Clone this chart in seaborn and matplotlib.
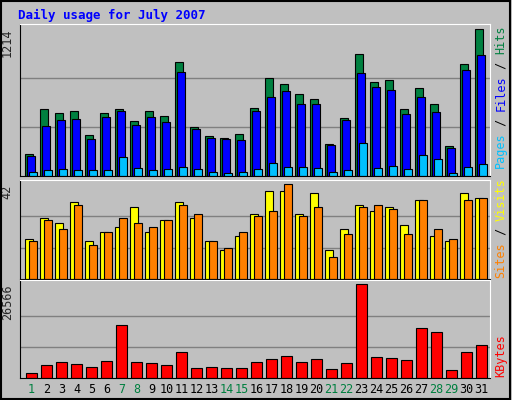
import numpy as np
import pandas as pd
import seaborn as sns
import matplotlib
matplotlib.use('Agg')
import matplotlib.pyplot as plt
from matplotlib.patches import Rectangle

days = list(range(1, 32))
weekend = [1, 7, 8, 14, 15, 21, 22, 28, 29]
hits = [179, 552, 519, 535, 337, 519, 552, 452, 535, 494, 941, 403, 328, 312, 345, 560,
        808, 759, 676, 635, 262, 477, 1007, 775, 792, 552, 726, 593, 246, 924, 1214]
files = [163, 411, 461, 469, 303, 486, 535, 419, 486, 444, 858, 386, 312, 303, 295, 535,
         651, 701, 593, 593, 254, 461, 850, 734, 709, 510, 651, 527, 229, 875, 999]
pages = [30, 47, 55, 47, 47, 47, 155, 63, 47, 55, 72, 55, 30, 22, 30, 55,
         105, 72, 72, 63, 30, 47, 270, 63, 80, 55, 171, 138, 22, 72, 97]
visits = [18, 27, 25, 34, 17, 21, 23, 32, 21, 26, 34, 27, 17, 13, 19, 29,
          39, 39, 29, 38, 13, 22, 33, 30, 32, 24, 35, 19, 17, 38, 36]
sites = [17, 26, 22, 33, 15, 21, 27, 25, 23, 26, 33, 29, 17, 14, 21, 28,
         30, 42, 28, 32, 10, 20, 32, 33, 31, 20, 35, 22, 18, 35, 36]
kbytes = [1551, 3587, 4460, 3878, 3006, 4751, 14931, 4460, 4169, 3587, 7369, 2715, 3006, 2715, 2715, 4460,
          5333, 6205, 4460, 5333, 2424, 4169, 26566, 5914, 5623, 5042, 14059, 13186, 2133, 7369, 9405]

sns.set_style('white')
plt.rcParams['font.family'] = ['DejaVu Sans Mono', 'DejaVu Sans']

fig = plt.figure(figsize=(5.12, 4.0), dpi=100)
fig.patch.set_facecolor('#C0C0C0')
fig.add_artist(Rectangle((0.002, 0.003), 0.995, 0.994, transform=fig.transFigure,
                         fill=False, edgecolor='black', linewidth=1.5))

L, W = 0.039, 0.919
ax1 = fig.add_axes([L, 0.56, W, 0.38])
ax2 = fig.add_axes([L, 0.3025, W, 0.2475])
ax3 = fig.add_axes([L, 0.055, W, 0.245])
x = np.arange(31)
kw = dict(align='edge', edgecolor='black', linewidth=0.8)

ax1.bar(x - 0.43, hits, width=0.53, color='#008040', **kw)
ax1.bar(x - 0.30, files, width=0.53, color='#0000FF', **kw)
ax1.bar(x - 0.15, pages, width=0.50, color='#00C0FF', **kw)
ax1.set_ylim(0, 1255)

ax2.bar(x - 0.41, visits, width=0.49, color='#FFFF00', **kw)
ax2.bar(x - 0.15, sites, width=0.50, color='#FF8000', **kw)
ax2.set_ylim(0, 44)

df = pd.DataFrame({'day': x, 'kb': kbytes})
sns.barplot(data=df, x='day', y='kb', color='#FF0000', native_scale=True, width=0.74,
            saturation=1, edgecolor='black', linewidth=0.8, ax=ax3)
ax3.set_ylim(0, 27800)

for ax, top in [(ax1, 1214), (ax2, 42), (ax3, 26566)]:
    ax.set_facecolor('#C0C0C0')
    ax.set_xlim(-0.77, 30.6)
    for g in (top / 3, 2 * top / 3):
        ax.axhline(g, color='#808080', linewidth=1, zorder=0)
    ax.set_xticks([]); ax.set_yticks([])
    ax.set_xlabel(''); ax.set_ylabel('')
    for s in ax.spines.values():
        s.set_color('black')
    ax.spines['top'].set_color('white')
    ax.spines['right'].set_color('white')
    ax.text(-0.027, top / ax.get_ylim()[1], str(top),
            transform=ax.transAxes, rotation=90, ha='center', va='top', fontsize=8.5)

for i, d in enumerate(days):
    ax3.text(i, -0.12, str(d), transform=ax3.get_xaxis_transform(), ha='center', va='center',
             fontsize=8.5, color='#008040' if d in weekend else 'black')

fig.text(0.035, 0.962, 'Daily usage for July 2007', color='#0000FF', fontsize=9,
         fontweight='bold', ha='left', va='center')

renderer = fig.canvas.get_renderer()

def side(parts, ytop=None, ybot=None):
    # stacked rotated words, reading bottom to top
    texts = [fig.text(0.978, 0, t, rotation=90, color=c, fontsize=8.5, ha='center', va='bottom')
             for t, c in parts]
    hs = [t.get_window_extent(renderer).height / fig.bbox.height for t in texts]
    pos = ybot if ybot is not None else ytop - sum(hs)
    for t, h in zip(texts, hs):
        t.set_y(pos)
        pos += h

side([('Pages', '#00C0FF'), (' / ', '#000000'), ('Files', '#0000FF'), (' / ', '#000000'), ('Hits', '#008040')], ytop=0.935)
side([('Sites', '#FF8000'), (' / ', '#000000'), ('Visits', '#FFFF00')], ybot=0.305)
side([('KBytes', '#FF0000')], ybot=0.058)

fig.savefig('out.png', dpi=100, facecolor=fig.get_facecolor())
